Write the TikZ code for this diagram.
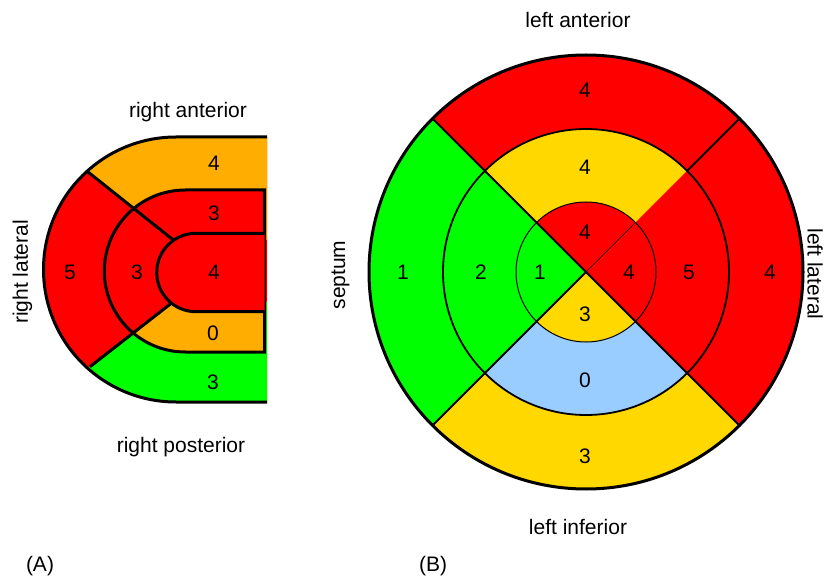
\documentclass[tikz,border=0pt]{standalone}
\usepackage{fontspec}
\setmainfont{Liberation Sans}
\definecolor{segred}{HTML}{FF0000}
\definecolor{seggreen}{HTML}{00FF00}
\definecolor{segyellow}{HTML}{FFD800}
\definecolor{segorange}{HTML}{FFAD00}
\definecolor{segblue}{HTML}{99CCFF}
\newcommand\pieW[4]{\fill[#1] (0,0) -- (#2:#4pt) arc[start angle=#2, end angle=#3, radius=#4pt] -- cycle;}
\begin{document}
\begin{tikzpicture}[x=1pt,y=1pt,
  txt/.style={font=\fontsize{21}{25}\selectfont, inner sep=0pt},
  thick3/.style={line width=3pt}]
\useasboundingbox (0,0) rectangle (824,579);

% ---------------- Part A ----------------
\fill[segred] (267,442) -- (176,442) arc[start angle=90, end angle=270, radius=132.5pt] -- (267,177) -- cycle;
\begin{scope}
  \clip (267,442) -- (176,442) arc[start angle=90, end angle=270, radius=132.5pt] -- (267,177) -- cycle;
  \fill[segorange] (2.7,475) -- (173.3,339) -- (300,339) -- (300,500) -- (2.7,500) -- cycle;
  \fill[seggreen] (6.7,147.3) -- (173.3,277.3) -- (300,277.3) -- (300,100) -- (6.7,100) -- cycle;
\end{scope}
\fill[segred] (264.5,389) -- (185.3,389) arc[start angle=90, end angle=270, radius=81pt] -- (264.5,227) -- cycle;
\begin{scope}
  \clip (264.5,389) -- (185.3,389) arc[start angle=90, end angle=270, radius=81pt] -- (264.5,227) -- cycle;
  \fill[segorange] (6.7,147.3) -- (173.3,277.3) -- (300,277.3) -- (300,100) -- (6.7,100) -- cycle;
\end{scope}
\coordinate (p1) at (88,407);
\coordinate (q1) at (173.3,339);
\coordinate (p2) at (90,212.3);
\coordinate (q2) at (173.3,277.3);
\draw[thick3] (p1) -- (q1);
\draw[thick3] (p2) -- (q2);
\draw[thick3] (264.5,389) -- (185.3,389) arc[start angle=90, end angle=270, radius=81pt] -- (264.5,227) -- cycle;
\draw[thick3, fill=segred] (264.5,345.7) -- (195.9,345.7) arc[start angle=90, end angle=270, radius=39.2pt] -- (264.5,267.3);
\draw[thick3] (267,442) -- (176,442) arc[start angle=90, end angle=270, radius=132.5pt] -- (267,177);

\node[txt] (ra) at (188,467) {right anterior};
\node[txt] (rp) at (181,132) {right posterior};
\node[txt, rotate=90] (rl) at (22.5,307) {right lateral};
\node[txt] (a1) at (214,416) {4};
\node[txt] (a2) at (214,366) {3};
\node[txt] (a3) at (214,307) {4};
\node[txt] (a4) at (213,246) {0};
\node[txt] (a5) at (213,197) {3};
\node[txt] (a6) at (70,307) {5};
\node[txt] (a7) at (137,307) {3};
\node[txt] (la) at (40,13) {(A)};

% ---------------- Part B ----------------
\begin{scope}[shift={(586,307)}]
  \pieW{segred}{45}{135}{217}
  \pieW{seggreen}{135}{225}{217}
  \pieW{segyellow}{225}{315}{217}
  \pieW{segred}{-45}{45}{217}
  \pieW{segyellow}{45}{135}{143}
  \pieW{seggreen}{135}{225}{143}
  \pieW{segblue}{225}{315}{143}
  \pieW{segred}{-45}{45}{143}
  \pieW{segred}{45}{135}{70}
  \pieW{seggreen}{135}{225}{70}
  \pieW{segyellow}{225}{315}{70}
  \pieW{segred}{-45}{45}{70}
  \draw[line width=1.8pt] (0,0) circle[radius=143pt];
  \draw[line width=1pt] (0,0) circle[radius=70pt];
  \draw[line width=2pt] (135:217pt) -- (-45:217pt);
  \draw[line width=2pt] (0,0) -- (225:217pt);
  \draw[line width=2pt] (45:217pt) -- (45:143pt);
  \draw[line width=0.6pt] (0,0) -- (45:70pt);
  \draw[line width=3pt] (0,0) circle[radius=217pt];
\end{scope}

\node[txt] (lant) at (578,559) {left anterior};
\node[txt] (linf) at (578,52) {left inferior};
\node[txt, rotate=90] (sep) at (340.5,304) {septum};
\node[txt, rotate=-90, anchor=base] (llat) at (807.5,305) {left lateral};
\node[txt] (b1) at (585,489) {4};
\node[txt] (b2) at (585,412) {4};
\node[txt] (b3) at (585,347) {4};
\node[txt] (b4) at (403,307) {1};
\node[txt] (b5) at (481,307) {2};
\node[txt] (b6) at (540,307) {1};
\node[txt] (b7) at (629,307) {4};
\node[txt] (b8) at (689,307) {5};
\node[txt] (b9) at (770,307) {4};
\node[txt] (b10) at (585,265) {3};
\node[txt] (b11) at (585,199) {0};
\node[txt] (b12) at (585,123) {3};
\node[txt] (lb) at (433,13) {(B)};
\end{tikzpicture}
\end{document}
